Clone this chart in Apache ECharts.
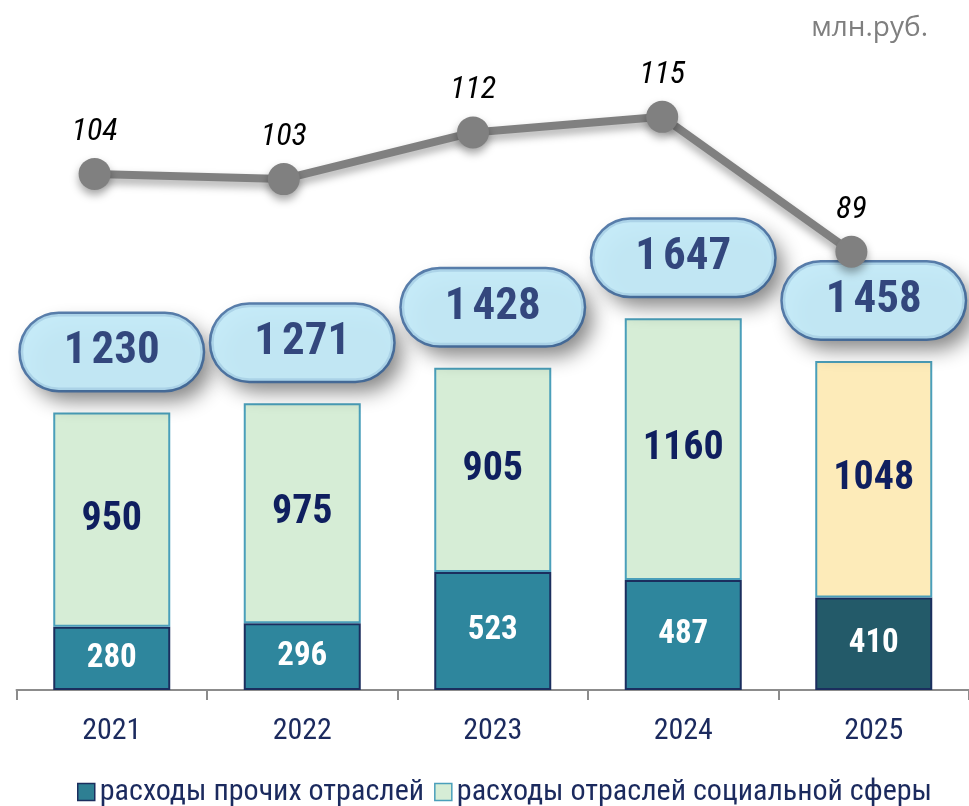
<!DOCTYPE html>
<html>
<head>
<meta charset="utf-8">
<script src="https://cdn.jsdelivr.net/npm/echarts@6/dist/echarts.min.js"></script>
<style>
html,body{margin:0;padding:0;background:#fff;}
#chart{width:969px;height:806px;}
</style>
</head>
<body>
<div id="chart"></div>
<script>
const years = ['2021', '2022', '2023', '2024', '2025'];
const otherExp = [280, 296, 523, 487, 410];
const socialExp = [950, 975, 905, 1160, 1048];
const totals = [1230, 1271, 1428, 1647, 1458];
const growthPct = [104, 103, 112, 115, 89];
const seriesNames = ['расходы прочих отраслей', 'расходы отраслей социальной сферы'];
const unitText = 'млн.руб.';

const ctx = document.createElement('canvas').getContext('2d');
const probe = 'абвгдежз 0123456789 WMwm';
function hasFont(f) {
  return ['monospace', 'serif'].some(r => {
    ctx.font = '40px ' + r;
    const a = ctx.measureText(probe).width;
    ctx.font = '40px "' + f + '", ' + r;
    return ctx.measureText(probe).width !== a;
  });
}
const candidates = ['Liberation Sans Narrow', 'Arial Narrow', 'Roboto Condensed', 'DejaVu Sans Condensed', 'Liberation Sans'];
const fam = candidates.find(hasFont) || 'sans-serif';
const narrow = '"' + fam + '", sans-serif';

function fit(text, targetW, weight, style) {
  ctx.font = (style || 'normal') + ' ' + (weight || 'normal') + ' 100px ' + narrow;
  return 100 * targetW / ctx.measureText(text).width;
}
function size(text, targetW, digitH, weight, style) {
  const w = fit(text, targetW, weight, style);
  const h = digitH / 0.73;
  return Math.round(Math.min(h, (w + h) / 2));
}

const navy = '#0F1F5F';
function fmtTotal(v) {
  const s = String(v);
  return s.length > 3 ? s.slice(0, s.length - 3) + '\u202F' + s.slice(-3) : s;
}

const fsCat = size('2021', 55, 23);
const fsLegend = Math.round(fit(seriesNames[0] + seriesNames[1], 800) * 10) / 10;
const fsBox = size('1\u202F230', 88, 35, 'bold');
const fsTop = size('950', 58, 30, 'bold');
const fsBot = size('280', 48, 25, 'bold');
const fsLine = size('104', 47, 23, 'normal', 'italic');

const chart = echarts.init(document.getElementById('chart'), null, {renderer: 'canvas'});

const boxLabel = {
  show: true, position: 'top', distance: 22,
  formatter: p => fmtTotal(p.value),
  fontFamily: narrow, fontWeight: 'bold', fontSize: fsBox, lineHeight: 48,
  width: 150, align: 'center', padding: [14, 16, 14, 16],
  borderRadius: 38
};

const option = {
  backgroundColor: '#ffffff',
  animation: false,
  graphic: [{
    type: 'text', right: 41, top: 14,
    style: {text: unitText, font: "28px 'Open Sans', sans-serif", fill: '#7F7F7F'}
  }],
  legend: {
    data: [
      {name: seriesNames[0], itemStyle: {color: '#2E7F93', borderColor: '#1B2E5E', borderWidth: 1.5}},
      {name: seriesNames[1], itemStyle: {color: '#D6EDD6', borderColor: '#4A9FBA', borderWidth: 1.5}}
    ],
    left: 72, top: 772,
    icon: 'rect', itemWidth: 17, itemHeight: 17, itemGap: 10,
    textStyle: {fontFamily: narrow, fontSize: fsLegend, color: '#1B2A5E'}
  },
  grid: [
    {left: 16.5, right: -13, top: 0, bottom: 116},
    {left: 0, right: 23, top: 0, bottom: 116}
  ],
  xAxis: [
    {
      type: 'category', gridIndex: 0, data: years,
      axisLine: {lineStyle: {color: '#8C8C8C', width: 2}},
      axisTick: {show: true, length: 10, lineStyle: {color: '#8C8C8C', width: 2}},
      axisLabel: {fontFamily: narrow, fontSize: fsCat, color: '#1B2A5E', margin: 26}
    },
    {type: 'category', gridIndex: 1, data: years, show: false}
  ],
  yAxis: [
    {type: 'value', gridIndex: 0, min: 0, max: 3058, show: false, splitLine: {show: false}},
    {type: 'value', gridIndex: 1, min: 4.6, max: 137.5, show: false, splitLine: {show: false}}
  ],
  series: [
    {
      name: seriesNames[0], type: 'bar', stack: 'total', xAxisIndex: 0, yAxisIndex: 0,
      barWidth: 117,
      data: otherExp.map((v, i) => i === 4 ? {value: v, itemStyle: {color: '#235A69'}} : v),
      itemStyle: {color: '#2E869D', borderColor: '#1B2E5E', borderWidth: 2},
      label: {show: true, position: 'inside', color: '#ffffff', fontFamily: narrow, fontWeight: 'bold', fontSize: fsBot},
      z: 2
    },
    {
      name: seriesNames[1], type: 'bar', stack: 'total', xAxisIndex: 0, yAxisIndex: 0,
      barWidth: 117,
      data: socialExp.map((v, i) => i === 4 ? {value: v, itemStyle: {color: '#FDEBB9'}} : v),
      itemStyle: {color: '#D6EDD6', borderColor: '#4A9FBA', borderWidth: 2},
      label: {show: true, position: 'inside', color: navy, fontFamily: narrow, fontWeight: 'bold', fontSize: fsTop},
      z: 2
    },
    {
      name: 'totalShadow', type: 'scatter', xAxisIndex: 0, yAxisIndex: 0,
      data: totals, symbol: 'circle', symbolSize: 1,
      itemStyle: {color: 'rgba(0,0,0,0)'}, silent: true, z: 4,
      label: Object.assign({}, boxLabel, {
        color: 'rgba(0,0,0,0)', backgroundColor: '#C3EAF7',
        shadowColor: 'rgba(0,0,0,0.6)', shadowBlur: 20, shadowOffsetX: 9, shadowOffsetY: 11
      })
    },
    {
      name: 'total', type: 'scatter', xAxisIndex: 0, yAxisIndex: 0,
      data: totals, symbol: 'circle', symbolSize: 1,
      itemStyle: {color: 'rgba(0,0,0,0)'}, silent: true, z: 5,
      label: Object.assign({}, boxLabel, {
        color: navy, backgroundColor: '#C3EAF7', borderColor: '#2F5E96', borderWidth: 2.5
      })
    },
    {
      name: 'growth', type: 'line', xAxisIndex: 1, yAxisIndex: 1,
      data: growthPct, symbol: 'circle', symbolSize: 32,
      lineStyle: {color: '#808080', width: 8, shadowColor: 'rgba(0,0,0,0.35)', shadowBlur: 8, shadowOffsetY: 5},
      itemStyle: {color: '#808080', shadowColor: 'rgba(0,0,0,0.35)', shadowBlur: 8, shadowOffsetY: 5},
      label: {show: true, position: 'top', distance: 10, color: '#000000', fontFamily: narrow, fontStyle: 'italic', fontSize: fsLine},
      z: 6
    }
  ]
};
chart.setOption(option);
</script>
</body>
</html>
